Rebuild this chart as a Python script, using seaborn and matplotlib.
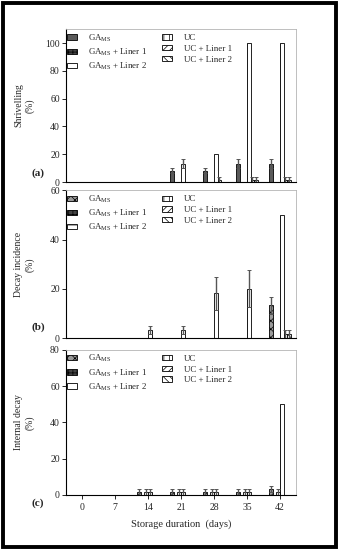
import numpy as np
import pandas as pd
import matplotlib
matplotlib.use("Agg")
import matplotlib.pyplot as plt
from matplotlib.patches import Patch, Rectangle
import seaborn as sns

# ── Data ───────────────────────────────────────────────────────────
DAYS = ["0", "7", "14", "21", "28", "35", "42"]
TREATMENTS = ["GA", "GA+L1", "GA+L2", "UC", "UC+L1", "UC+L2"]
LABELS = [r"GA$_{\mathregular{MS}}$", r"GA$_{\mathregular{MS}}$ + Liner 1",
          r"GA$_{\mathregular{MS}}$ + Liner 2", "UC", "UC + Liner 1", "UC + Liner 2"]

# (a) shrivelling (%)
shriv_ga = [0, 0, 0, 8.3, 8.3, 13.3, 13.3]
shriv_ga_err = [0, 0, 0, 1.7, 1.7, 3.3, 3.3]
shriv_gal1 = [0, 0, 0, 0, 0, 0, 0]
shriv_gal2 = [0, 0, 0, 0, 0, 0, 0]
shriv_uc = [0, 0, 0, 13.3, 20, 100, 100]
shriv_uc_err = [0, 0, 0, 3.3, 0, 0, 0]
shriv_ucl1 = [0, 0, 0, 0, 1.7, 1.7, 1.7]
shriv_ucl1_err = [0, 0, 0, 0, 1.7, 1.7, 1.7]
shriv_ucl2 = [0, 0, 0, 0, 0, 1.7, 1.7]
shriv_ucl2_err = [0, 0, 0, 0, 0, 1.7, 1.7]

# (b) decay incidence (%)
decay_ga = [0, 0, 0, 0, 0, 0, 13.3]
decay_ga_err = [0, 0, 0, 0, 0, 0, 3.3]
decay_gal1 = [0, 0, 0, 0, 0, 0, 0]
decay_gal2 = [0, 0, 0, 0, 0, 0, 0]
decay_uc = [0, 0, 3.3, 3.3, 18.3, 20, 50]
decay_uc_err = [0, 0, 1.7, 1.7, 6.7, 7.5, 0]
decay_ucl1 = [0, 0, 0, 0, 0, 0, 1.7]
decay_ucl1_err = [0, 0, 0, 0, 0, 0, 1.7]
decay_ucl2 = [0, 0, 0, 0, 0, 0, 1.7]
decay_ucl2_err = [0, 0, 0, 0, 0, 0, 1.7]

# (c) internal decay (%)
internal_ga = [0, 0, 1.7, 1.7, 1.7, 1.7, 3.3]
internal_ga_err = [0, 0, 1.7, 1.7, 1.7, 1.7, 1.7]
internal_gal1 = [0, 0, 0, 0, 0, 0, 0]
internal_gal2 = [0, 0, 1.7, 1.7, 1.7, 1.7, 1.7]
internal_gal2_err = [0, 0, 1.7, 1.7, 1.7, 1.7, 1.7]
internal_uc = [0, 0, 1.7, 1.7, 1.7, 1.7, 50]
internal_uc_err = [0, 0, 1.7, 1.7, 1.7, 1.7, 0]
internal_ucl1 = [0, 0, 0, 0, 0, 0, 0]
internal_ucl2 = [0, 0, 0, 0, 0, 0, 0]

ZERO = [0] * 7

# ── Style ──────────────────────────────────────────────────────────
sns.set_theme(style="white")
plt.rcParams.update({
    "font.family": ["Liberation Serif", "DejaVu Serif"],
    "mathtext.fontset": "custom",
    "mathtext.rm": "Liberation Serif",
    "font.size": 7,
    "hatch.linewidth": 0.5,
})


def make_frame(values, errors):
    rows = []
    for t, vals, errs in zip(TREATMENTS, values, errors):
        for d, v, e in zip(DAYS, vals, errs):
            rows.append({"day": d, "treatment": t, "value": v, "err": e})
    return pd.DataFrame(rows)


def draw_panel(ax, df, styles, ymax, yticks, ylabel, show_x):
    sns.barplot(data=df, x="day", y="value", hue="treatment", order=DAYS,
                hue_order=TREATMENTS, errorbar=None, width=0.66, ax=ax,
                legend=False, edgecolor="black", linewidth=0.6)
    for cont, t, (fc, hatch) in zip(ax.containers, TREATMENTS, styles):
        sub = df[df["treatment"] == t].set_index("day").loc[DAYS]
        for bar, v, e in zip(cont.patches, sub["value"], sub["err"]):
            bar.set_facecolor(fc)
            bar.set_hatch(hatch)
            if e > 0:
                ax.errorbar(bar.get_x() + bar.get_width() / 2, v, yerr=e,
                            fmt="none", ecolor="#555555", elinewidth=1.0,
                            capsize=1.2, capthick=0.7)
    ax.set_xlim(-0.485, 6.485)
    ax.set_ylim(0, ymax)
    ax.set_yticks(yticks)
    ax.set_ylabel(ylabel, fontsize=7, linespacing=1.3)
    ax.yaxis.set_label_coords(-0.135, 0.5)
    ax.tick_params(axis="y", direction="out", length=3, width=0.7, labelsize=7, pad=1.5, left=True)
    for s in ["top", "right"]:
        ax.spines[s].set_color("#b4b4b4")
        ax.spines[s].set_linewidth(0.6)
    for s in ["left", "bottom"]:
        ax.spines[s].set_color("black")
        ax.spines[s].set_linewidth(0.8)
    if show_x:
        ax.tick_params(axis="x", direction="out", length=3, width=0.7, labelsize=7, pad=3, bottom=True)
        ax.set_xlabel("Storage duration  (days)", fontsize=7.5, labelpad=5)
    else:
        ax.set_xticklabels([])
        ax.set_xlabel("")
        ax.tick_params(axis="x", bottom=False)

    handles = [Patch(facecolor=fc, edgecolor="black", hatch=h, linewidth=0.6, label=l)
               for (fc, h), l in zip(styles, LABELS)]
    ax.legend(handles=handles, ncol=2, loc="upper left", bbox_to_anchor=(-0.01, 1.0),
              frameon=False, fontsize=6.4, handlelength=1.1, handleheight=0.55,
              labelspacing=0.3, columnspacing=1.7, handletextpad=1.3,
              borderaxespad=0.15, borderpad=0.2)


fig = plt.figure(figsize=(3.39, 5.5), dpi=100)
fig.patch.set_facecolor("white")

ax_a = fig.add_axes([0.195, 0.669, 0.678, 0.278])
ax_b = fig.add_axes([0.195, 0.385, 0.678, 0.269])
ax_c = fig.add_axes([0.195, 0.100, 0.678, 0.264])

styles_a = [("#5a5a5a", ""), ("#444444", "++++"), ("white", "-"),
            ("white", "|||"), ("white", "/////"), ("white", "\\\\\\\\\\")]
styles_bc = [("#9a9a9a", "xxxx"), ("#444444", "++++"), ("white", "-"),
             ("white", "|||"), ("white", "/////"), ("white", "\\\\\\\\\\")]

df_a = make_frame(
    [shriv_ga, shriv_gal1, shriv_gal2, shriv_uc, shriv_ucl1, shriv_ucl2],
    [shriv_ga_err, ZERO, ZERO, shriv_uc_err, shriv_ucl1_err, shriv_ucl2_err])
df_b = make_frame(
    [decay_ga, decay_gal1, decay_gal2, decay_uc, decay_ucl1, decay_ucl2],
    [decay_ga_err, ZERO, ZERO, decay_uc_err, decay_ucl1_err, decay_ucl2_err])
df_c = make_frame(
    [internal_ga, internal_gal1, internal_gal2, internal_uc, internal_ucl1, internal_ucl2],
    [internal_ga_err, ZERO, internal_gal2_err, internal_uc_err, ZERO, ZERO])

draw_panel(ax_a, df_a, styles_a, 110, [0, 20, 40, 60, 80, 100], "Shrivelling\n(%)", False)
draw_panel(ax_b, df_b, styles_bc, 60, [0, 20, 40, 60], "Decay incidence\n(%)", False)
draw_panel(ax_c, df_c, styles_bc, 80, [0, 20, 40, 60, 80], "Internal decay\n(%)", True)

# panel tags
fig.text(0.112, 0.685, "(a)", fontsize=8, fontweight="bold", ha="center", va="center")
fig.text(0.112, 0.405, "(b)", fontsize=8, fontweight="bold", ha="center", va="center")
fig.text(0.112, 0.085, "(c)", fontsize=8, fontweight="bold", ha="center", va="center")

# outer border
fig.patches.append(Rectangle((0.009, 0.006), 0.982, 0.988, transform=fig.transFigure,
                             fill=False, edgecolor="black", linewidth=2.8))

fig.savefig("out.png", dpi=100)
